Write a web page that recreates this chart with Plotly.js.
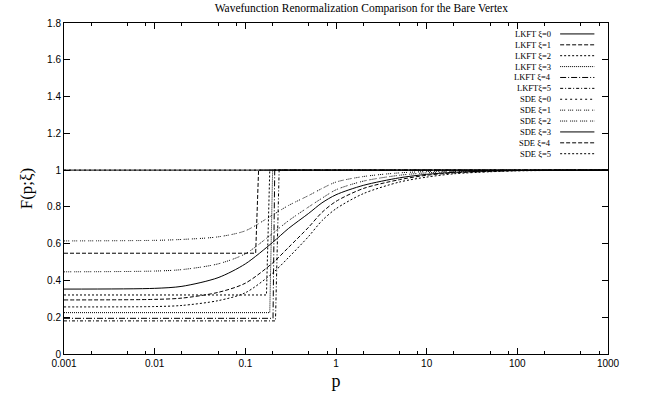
<!DOCTYPE html>
<html>
<head>
<meta charset="utf-8">
<script src="https://cdn.plot.ly/plotly-3.0.1.min.js"></script>
<style>html,body{margin:0;padding:0;background:#fff;}#chart{width:651px;height:403px;}</style>
</head>
<body>
<div id="chart"></div>
<script>
// ---------- data ----------
const seriesNames = ["LKFT \u03be=0", "LKFT \u03be=1", "LKFT \u03be=2", "LKFT \u03be=3", "LKFT \u03be=4", "LKFT\u03be=5",
                     "SDE \u03be=0", "SDE \u03be=1", "SDE \u03be=2", "SDE \u03be=3", "SDE \u03be=4", "SDE \u03be=5"];

// LKFT: flat value below a critical momentum, then jump to 1
const lkft0_p = [0.001, 1000];
const lkft0_F = [1, 1];
const lkft1_p = [0.001, 0.130, 0.140, 1000];
const lkft1_F = [0.548, 0.548, 1, 1];
const lkft2_p = [0.001, 0.171, 0.186, 1000];
const lkft2_F = [0.321, 0.321, 1, 1];
const lkft3_p = [0.001, 0.186, 0.200, 1000];
const lkft3_F = [0.225, 0.225, 1, 1];
const lkft4_p = [0.001, 0.202, 0.211, 1000];
const lkft4_F = [0.194, 0.194, 1, 1];
const lkft5_p = [0.001, 0.215, 0.236, 1000];
const lkft5_F = [0.180, 0.180, 1, 1];

// SDE curves
const sde0_p = [0.001, 1000];
const sde0_F = [1, 1];
const sde_p  = [0.001, 0.01, 0.02, 0.05, 0.1, 0.2, 0.3, 0.5, 0.7, 1, 2, 5, 10, 20, 50, 100, 1000];
const sde1_F = [0.615, 0.618, 0.623, 0.637, 0.670, 0.756, 0.808, 0.862, 0.900, 0.935, 0.965, 0.985, 0.992, 0.996, 0.998, 0.999, 1];
const sde2_F = [0.447, 0.451, 0.459, 0.490, 0.545, 0.656, 0.725, 0.800, 0.847, 0.893, 0.940, 0.972, 0.985, 0.992, 0.997, 0.998, 1];
const sde3_F = [0.353, 0.357, 0.368, 0.415, 0.490, 0.607, 0.683, 0.765, 0.822, 0.866, 0.917, 0.958, 0.977, 0.988, 0.995, 0.998, 1];
const sde4_F = [0.294, 0.297, 0.304, 0.335, 0.385, 0.495, 0.580, 0.690, 0.770, 0.830, 0.900, 0.948, 0.972, 0.985, 0.993, 0.997, 1];
const sde5_F = [0.256, 0.258, 0.264, 0.290, 0.333, 0.440, 0.525, 0.640, 0.725, 0.790, 0.872, 0.935, 0.962, 0.980, 0.991, 0.996, 1];

const xTickVals = [0.001, 0.01, 0.1, 1, 10, 100, 1000];
const xTickText = ["0.001", "0.01", "0.1", "1", "10", "100", "1000"];
const xMinorVals = [];
[0.001, 0.01, 0.1, 1, 10, 100].forEach(d => [2, 5, 8].forEach(m => xMinorVals.push(d * m)));

// ---------- styles ----------
const dashes = ["solid", "4px,2px", "2px,2px", "1px,1px", "6px,2px,1px,2px", "3px,2px,1px,2px",
                "2px,3px", "1px,1px,1px,1px,1px,3px", "1px,1px,1px,1px,1px,1px,1px,3px", "solid", "4px,2px", "2px,2px"];

const xs = [lkft0_p, lkft1_p, lkft2_p, lkft3_p, lkft4_p, lkft5_p, sde0_p, sde_p, sde_p, sde_p, sde_p, sde_p];
const ys = [lkft0_F, lkft1_F, lkft2_F, lkft3_F, lkft4_F, lkft5_F, sde0_F, sde1_F, sde2_F, sde3_F, sde4_F, sde5_F];

const traces = seriesNames.map((n, i) => ({
  x: xs[i], y: ys[i], name: n, type: "scatter", mode: "lines",
  line: {color: "#000", width: 1, dash: dashes[i], shape: (i >= 7 ? "spline" : "linear"), smoothing: 0.8},
  showlegend: false, hoverinfo: "skip"
}));

// custom legend: text right-aligned, sample line to its right (gnuplot style)
const serif = "Liberation Serif, Times New Roman, serif";
const shapes = [], annotations = [];
const legTop = 0.967, legStep = 0.0329;
seriesNames.forEach((n, i) => {
  const yy = legTop - i * legStep;
  shapes.push({type: "line", xref: "paper", yref: "paper", x0: 0.912, x1: 0.975, y0: yy, y1: yy,
               line: {color: "#000", width: 1, dash: dashes[i]}});
  annotations.push({xref: "paper", yref: "paper", x: 0.899, y: yy, text: n, showarrow: false,
                    xanchor: "right", yanchor: "middle", font: {family: serif, size: 8.5, color: "#000"}});
});

const axisCommon = {
  ticks: "inside", ticklen: 6, tickwidth: 1, tickcolor: "#000",
  showline: true, linecolor: "#000", linewidth: 1, mirror: "ticks",
  showgrid: false, zeroline: false,
  tickfont: {family: "Liberation Sans, Arial, sans-serif", size: 10, color: "#000"}
};

const layout = {
  width: 651, height: 403,
  margin: {l: 64, r: 43, t: 23, b: 49},
  paper_bgcolor: "#fff", plot_bgcolor: "#fff",
  title: {text: "Wavefunction Renormalization Comparison for the Bare Vertex",
          font: {family: serif, size: 11.5, color: "#000"}, x: 0.555, xanchor: "center",
          y: 0.98, yanchor: "middle", yref: "container"},
  xaxis: Object.assign({}, axisCommon, {
    type: "log", range: [-3, 3], tickmode: "array", tickvals: xTickVals, ticktext: xTickText,
    minor: {tickmode: "array", tickvals: xMinorVals, ticks: "inside", ticklen: 3, tickcolor: "#000", showgrid: false},
    title: {text: "p", font: {family: serif, size: 18, color: "#000"}, standoff: 6}
  }),
  yaxis: Object.assign({}, axisCommon, {
    range: [0, 1.8], tickmode: "linear", tick0: 0, dtick: 0.2,
    title: {text: "F(p;\u03be)", font: {family: serif, size: 17, color: "#000"}, standoff: 10}
  }),
  shapes: shapes, annotations: annotations
};

Plotly.newPlot("chart", traces, layout, {staticPlot: true, displayModeBar: false});
</script>
</body>
</html>
